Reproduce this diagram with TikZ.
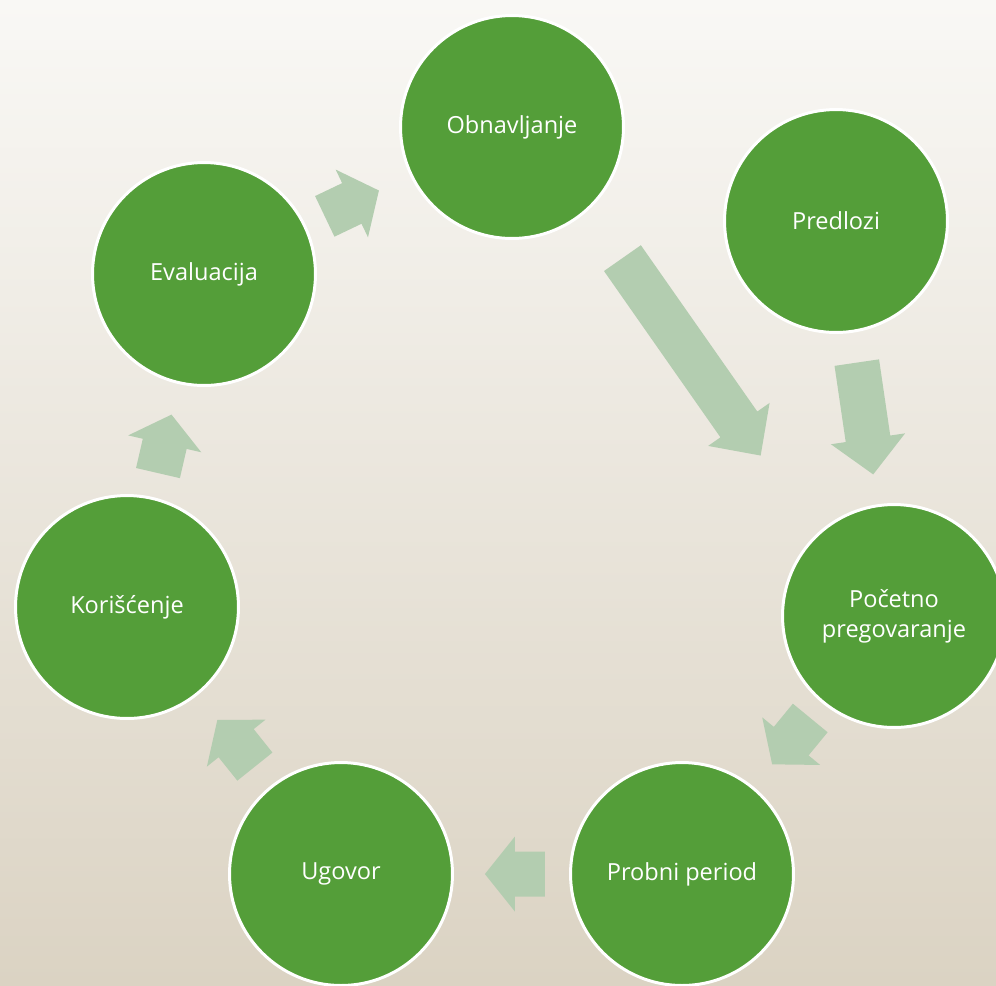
\documentclass[tikz,border=0pt]{standalone}
\usepackage{fontspec}
\setmainfont{Open Sans}
\usetikzlibrary{calc}

\definecolor{stagegreen}{RGB}{84,158,57}
\definecolor{flowfill}{RGB}{179,205,176}
\definecolor{bgtop}{RGB}{249,248,245}
\definecolor{bgbot}{RGB}{219,211,195}

\tikzset{
  stage/.style={circle, fill=stagegreen, draw=white, line width=1.7pt,
    minimum size=4.46cm, inner sep=0pt, text=white, align=center,
    font=\fontsize{13.4}{17}\selectfont},
  pics/flow/.style 2 args={code={
    \fill[flowfill] ({-#1/2},-22.5) -- ({#1/2-#2},-22.5) -- ({#1/2-#2},-37.5)
      -- ({#1/2},0) -- ({#1/2-#2},37.5) -- ({#1/2-#2},22.5) -- ({-#1/2},22.5) -- cycle;
  }}
}

\begin{document}
\begin{tikzpicture}[x=0.02cm, y=-0.02cm]

\useasboundingbox (0,0) rectangle (996,985);
\clip (0,0) rectangle (996,985);
\shade[top color=bgtop, bottom color=bgbot] (0,0) rectangle (996,985);

\node [stage] (obn) at (512,127) {Obnavljanje};
\node [stage] (pred) at (836,221) {Predlozi};
\node [stage] (eval) at (204,274) {Evaluacija};
\node [stage] (poc) at (894,616) {Početno\\pregovaranje};
\node [stage] (kor) at (127,607) {Korišćenje};
\node [stage] (ugo) at (341,874) {Ugovor};
\node [stage] (prob) at (682,874) {Probni period};

\path (eval.center) -- pic[pos=0.48, sloped, allow upside down] {flow={60}{30}} (obn.center);
\path (obn.center) -- pic[pos=0.47, sloped, allow upside down, rotate=-3] {flow={241}{38}} (poc.center);
\path (pred.center) -- pic[pos=0.5, sloped, allow upside down] {flow={113}{36}} (poc.center);
\path (poc.center) -- pic[pos=0.485, sloped, allow upside down] {flow={60}{30}} (prob.center);
\path (prob.center) -- pic[pos=0.49, sloped, allow upside down] {flow={60}{30}} (ugo.center);
\path (ugo.center) -- pic[pos=0.49, sloped, allow upside down] {flow={60}{30}} (kor.center);
\path (kor.center) -- pic[pos=0.49, sloped, allow upside down] {flow={60}{30}} (eval.center);

\end{tikzpicture}
\end{document}
